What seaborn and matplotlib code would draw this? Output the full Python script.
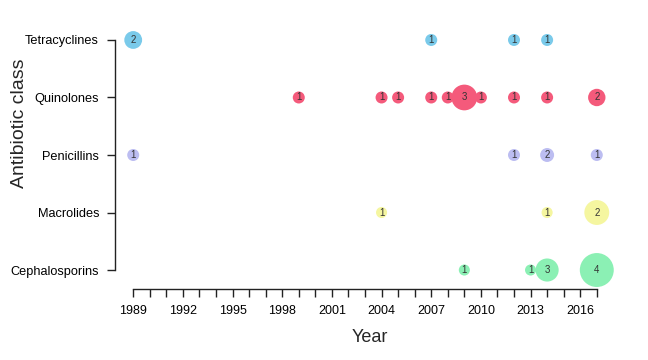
import matplotlib
matplotlib.use("Agg")
import matplotlib.pyplot as plt
import seaborn as sns
import pandas as pd
from matplotlib.ticker import FixedLocator

# ---- data ----
classes = ["Cephalosporins", "Macrolides", "Penicillins", "Quinolones", "Tetracyclines"]

tetra_years = [1989, 2007, 2012, 2014]
tetra_counts = [2, 1, 1, 1]
quin_years = [1999, 2004, 2005, 2007, 2008, 2009, 2010, 2012, 2014, 2017]
quin_counts = [1, 1, 1, 1, 1, 3, 1, 1, 1, 2]
pen_years = [1989, 2012, 2014, 2017]
pen_counts = [1, 1, 2, 1]
mac_years = [2004, 2014, 2017]
mac_counts = [1, 1, 2]
ceph_years = [2009, 2013, 2014, 2017]
ceph_counts = [1, 1, 3, 4]

# bubble weight (relative area)
tetra_w = [2.2, 1.0, 1.0, 1.0]
quin_w = [1.0, 1.0, 1.0, 1.0, 1.0, 4.6, 1.0, 1.0, 1.0, 2.1]
pen_w = [1.0, 1.0, 1.35, 1.0]
mac_w = [0.85, 0.85, 4.3]
ceph_w = [0.85, 0.85, 3.7, 8.0]

year_ticks = list(range(1989, 2018))
year_labels = list(range(1989, 2017, 3))

palette = {
    "Tetracyclines": "#7ACAEA",
    "Quinolones": "#F45A7B",
    "Penicillins": "#BCBDF1",
    "Macrolides": "#F5F6A0",
    "Cephalosporins": "#8BF0B4",
}

rows = []
for cls, ys, cs, ws in [
    ("Tetracyclines", tetra_years, tetra_counts, tetra_w),
    ("Quinolones", quin_years, quin_counts, quin_w),
    ("Penicillins", pen_years, pen_counts, pen_w),
    ("Macrolides", mac_years, mac_counts, mac_w),
    ("Cephalosporins", ceph_years, ceph_counts, ceph_w),
]:
    for y, c, w in zip(ys, cs, ws):
        rows.append({"cls": cls, "ypos": classes.index(cls), "year": y, "count": c, "w": w})
df = pd.DataFrame(rows)

sns.set_style("white")
plt.rcParams["font.family"] = ["Liberation Sans", "DejaVu Sans"]

fig = plt.figure(figsize=(6.48, 3.6), dpi=100)
ax = fig.add_axes([115 / 648, 71 / 360, 500 / 648, 268 / 360])

# marker area: 1 weight -> 12 px diameter
base_pt = 12 * 0.72
size_map = {w: (base_pt ** 2) * w for w in df["w"].unique()}

sns.scatterplot(data=df, x="year", y="ypos", hue="cls", palette=palette,
                size="w", sizes=size_map, linewidth=0, legend=False, ax=ax,
                alpha=1.0, zorder=3)

for _, r in df.iterrows():
    ax.text(r["year"], r["ypos"], str(r["count"]), ha="center", va="center",
            fontsize=7, color="#333333", zorder=4)

ax.set_xlim(1987.9, 2018.1)
ax.set_ylim(-0.33, 4.33)

for s in ["top", "right"]:
    ax.spines[s].set_visible(False)
ax.spines["left"].set_bounds(0, 4)
ax.spines["bottom"].set_bounds(1989, 2017)
for s in ["left", "bottom"]:
    ax.spines[s].set_color("#222222")
    ax.spines[s].set_linewidth(1.0)

ax.xaxis.set_major_locator(FixedLocator(year_labels))
ax.xaxis.set_minor_locator(FixedLocator(year_ticks))
ax.set_xticklabels([str(y) for y in year_labels])
ax.set_yticks(range(len(classes)))
ax.set_yticklabels(classes)

ax.tick_params(axis="x", which="both", direction="out", length=5.5, width=1.0,
               color="#222222", bottom=True, labelsize=9, pad=6, labelcolor="black")
ax.tick_params(axis="y", which="both", direction="out", length=5.5, width=1.0,
               color="#222222", left=True, labelsize=9.2, pad=6, labelcolor="black")

ax.set_xlabel("")
ax.set_ylabel("")
fig.text(370 / 648, 1 - 337 / 360, "Year", ha="center", va="center", fontsize=13)
fig.text(20 / 648, 1 - 123 / 360, "Antibiotic class", ha="center", va="center",
         rotation=90, fontsize=14)

fig.savefig("out.png", dpi=100)
